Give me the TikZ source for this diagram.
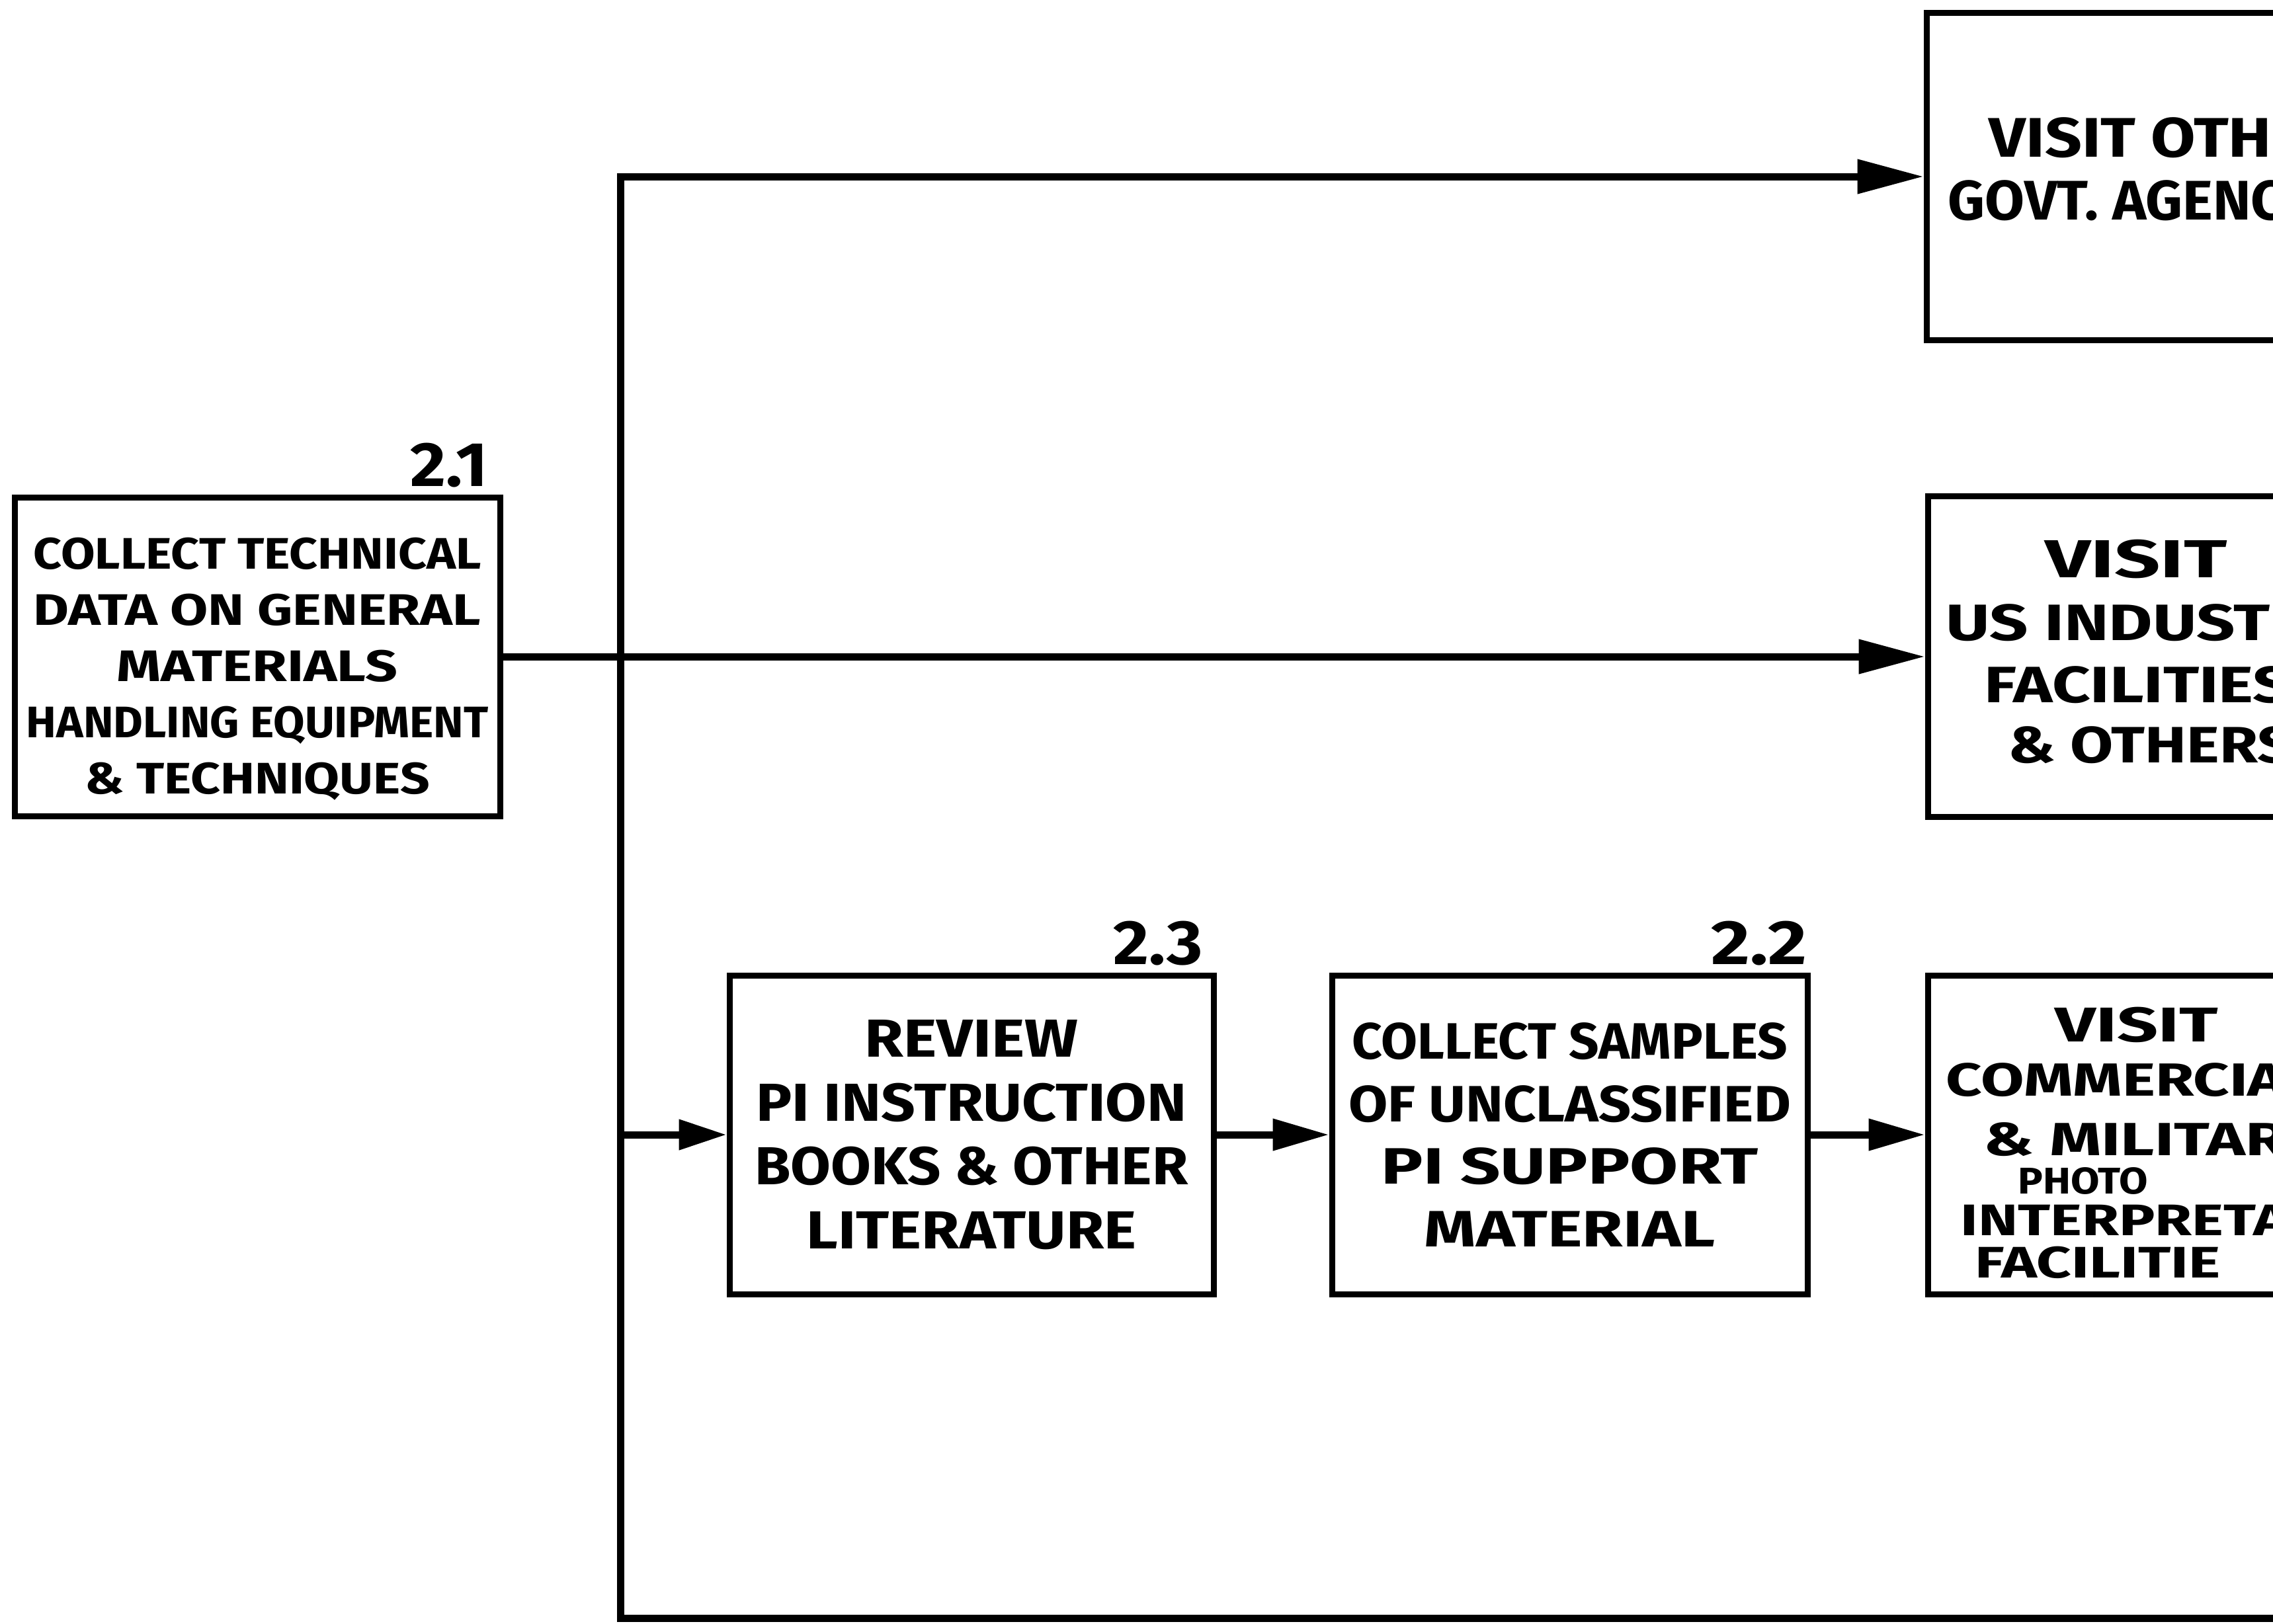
\documentclass[tikz,border=0pt]{standalone}
\usepackage{graphicx}
\usepackage{fontspec}
\newfontfamily\hand{Fira Sans}
\usetikzlibrary{arrows.meta}
\newcommand{\sx}[2]{\scalebox{#1}[1]{#2}}
\begin{document}
\begin{tikzpicture}[
  box/.style={draw, line width=0.09cm, rectangle, inner sep=0pt, align=center, font=\hand\bfseries},
  conn/.style={line width=0.11cm, line join=miter},
  arrL/.style={conn, -{Triangle[length=1.0cm,width=0.5cm]}},
  arrM/.style={conn, -{Triangle[length=0.85cm,width=0.46cm]}},
  arrS/.style={conn, -{Triangle[length=0.72cm,width=0.44cm]}},
  lbl/.style={font=\hand\bfseries\fontsize{27}{30}\selectfont, inner sep=0pt},
  txt/.style={inner sep=0pt, align=center},
  frag/.style={inner sep=0pt, anchor=west},
  fA/.style={font=\hand\bfseries\fontsize{24}{28}\selectfont},
  fB/.style={font=\hand\bfseries\fontsize{22}{26}\selectfont},
  fC/.style={font=\hand\bfseries\fontsize{20}{24}\selectfont},
  fE/.style={font=\hand\bfseries\fontsize{19}{22}\selectfont},
  fD/.style={font=\hand\bfseries\fontsize{16}{19}\selectfont},
]
\useasboundingbox (0,0) rectangle (34.37,-24.55);
\fill[white] (0,0) rectangle (34.37,-24.55);
\clip (0,0) rectangle (34.37,-24.55);

% main boxes
\node[box, minimum width=7.34cm, minimum height=4.82cm] (b21) at (3.89,-9.93) {};
\node[txt, font=\hand\bfseries\fontsize{19}{24.2}\selectfont] (b21t) at (3.89,-10.12)
  {\sx{1.12}{COLLECT TECHNICAL}\\\sx{1.24}{DATA ON GENERAL}\\\sx{1.28}{MATERIALS}\\%
   \sx{1.03}{HANDLING EQUIPMENT}\\\sx{1.17}{\& TECHNIQUES}};
\node[box, minimum width=7.32cm, minimum height=4.82cm,
      font=\hand\bfseries\fontsize{23}{27.5}\selectfont] (b23) at (14.69,-17.16)
  {\sx{1.18}{REVIEW}\\\sx{1.12}{PI INSTRUCTION}\\\sx{1.09}{BOOKS \& OTHER}\\\sx{1.15}{LITERATURE}};
\node[box, minimum width=7.19cm, minimum height=4.82cm,
      font=\hand\bfseries\fontsize{22}{27}\selectfont] (b22) at (23.735,-17.16)
  {\sx{1.03}{COLLECT SAMPLES}\\\sx{1.11}{OF UNCLASSIFIED}\\\sx{1.37}{PI SUPPORT}\hspace*{0.75cm}\\\sx{1.29}{MATERIAL}};

% right boxes (cut by the page edge)
\node[box, minimum width=6.4cm, minimum height=4.95cm] (rTop) at (32.33,-2.67) {};
\node[box, minimum width=6.4cm, minimum height=4.85cm] (rMid) at (32.35,-9.93) {};
\node[box, minimum width=6.4cm, minimum height=4.82cm] (rBot) at (32.35,-17.16) {};

% labels
\node[lbl, anchor=south east] (l21) at ([xshift=-0.22cm,yshift=0.1cm]b21.north east) {\sx{1.1}{2.1}};
\node[lbl, anchor=south east] (l23) at ([xshift=-0.2cm,yshift=0.1cm]b23.north east) {\sx{1.1}{2.3}};
\node[lbl, anchor=south east] (l22) at ([xshift=-0.04cm,yshift=0.1cm]b22.north east) {\sx{1.2}{2.2}};

% text in right boxes
\node[frag, fA] (t1a) at (30.07,-2.08) {\sx{1.16}{VISIT OTH}};
\node[frag, fA] (t1b) at (29.45,-3.03) {\sx{1.03}{GOVT. AGENC}};

\node[inner sep=0pt, font=\hand\bfseries\fontsize{23}{26}\selectfont] (t2a) at (32.30,-8.45) {\sx{1.5}{VISIT}};
\node[frag, fB] (t2b) at (29.42,-9.42) {\sx{1.32}{US INDUST}};
\node[frag, fB] (t2c) at (30.00,-10.36) {\sx{1.3}{FACILITIES}};
\node[frag, fB] (t2d) at (30.36,-11.27) {\sx{1.22}{\& OTHERS}};

\node[inner sep=0pt, font=\hand\bfseries\fontsize{21}{24}\selectfont] (t3a) at (32.31,-15.50) {\sx{1.47}{VISIT}};
\node[frag, fC] (t3b) at (29.42,-16.33) {\sx{1.35}{COMMERCIA}};
\node[frag, fC] (t3c) at (29.99,-17.23) {\sx{1.42}{\& MILITAR}};
\node[fD, inner sep=0pt] (t3d) at (31.50,-17.86) {\sx{1.12}{PHOTO}};
\node[frag, fE] (t3e) at (29.64,-18.45) {\sx{1.36}{INTERPRETA}};
\node[frag, fE] (t3f) at (29.86,-19.09) {\sx{1.37}{FACILITIE}};

% bus coordinates
\coordinate (busTop) at (9.38,-2.67);
\coordinate (busBot) at (9.38,-24.47);
\coordinate (bEnd) at (35.0,-24.47);
\coordinate (busA) at (9.38,-17.16);

% connectors
\draw[arrL] (bEnd) -- (busBot) -- (busTop) -- (rTop.west);
\draw[arrL] (b21.east) -- (rMid.west);
\draw[arrS] (busA) -- (b23.west);
\draw[arrM] (b23.east) -- (b22.west);
\draw[arrM] (b22.east) -- (rBot.west);
\end{tikzpicture}
\end{document}
